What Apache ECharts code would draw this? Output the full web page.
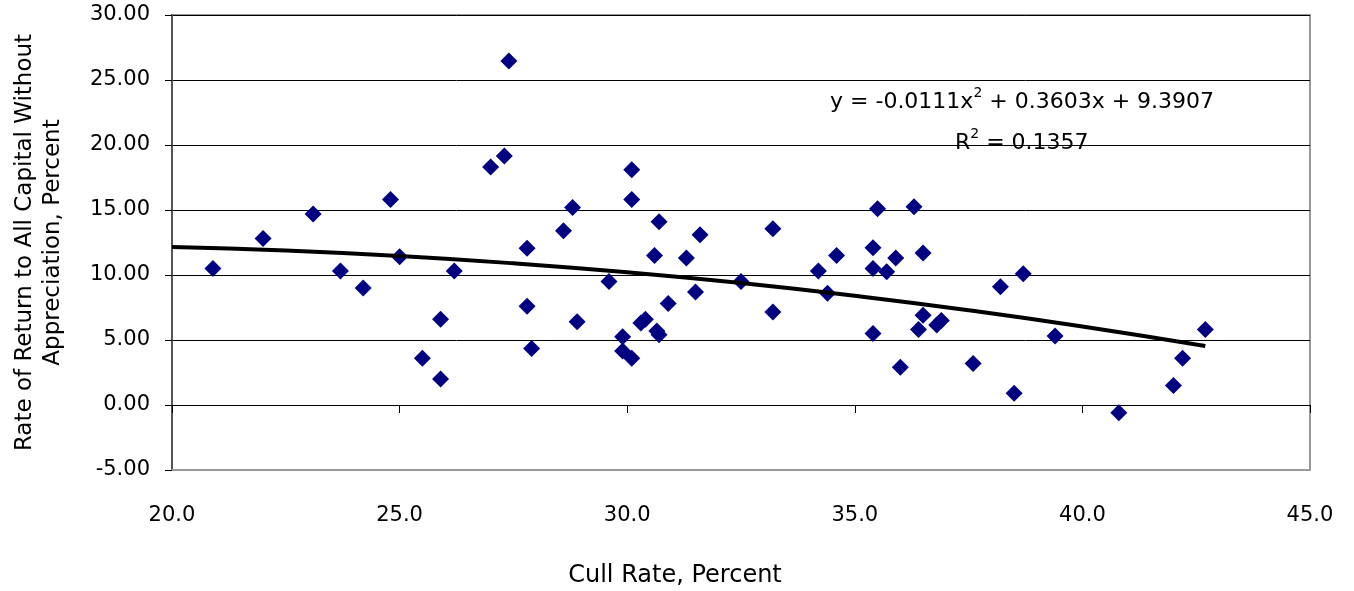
<!DOCTYPE html>
<html>
<head>
<meta charset="utf-8">
<script src="https://cdn.jsdelivr.net/npm/echarts@6/dist/echarts.min.js"></script>
<style>
  html, body { margin: 0; padding: 0; background: #fff; }
  #main { width: 1354px; height: 591px; }
</style>
</head>
<body>
<div id="main"></div>
<script>
// cull rate (x) and rate of return (y)
let cullRate = [
  20.9, 22.0, 23.1, 23.7, 24.2, 24.8, 25.0, 25.5, 25.9, 25.9,
  26.2, 27.0, 27.3, 27.4, 27.8, 27.8, 27.9, 28.6, 28.8, 28.9,
  29.6, 29.9, 29.9, 30.1, 30.1, 30.1, 30.3, 30.4, 30.6, 30.7,
  30.65, 30.7, 30.9, 31.3, 31.5, 31.6, 32.5, 33.2, 33.2, 34.2,
  34.4, 34.6, 35.4, 35.4, 35.4, 35.5, 35.7, 35.9, 36.0, 36.3,
  36.4, 36.5, 36.5, 36.8, 36.9, 37.6, 38.2, 38.5, 38.7, 39.4,
  40.8, 42.0, 42.2, 42.7
];
let returnRate = [
  10.5, 12.8, 14.7, 10.3, 9.0, 15.8, 11.4, 3.6, 6.6, 2.0,
  10.3, 18.3, 19.15, 26.46, 12.05, 7.6, 4.35, 13.4, 15.2, 6.4,
  9.5, 5.25, 4.15, 3.6, 18.1, 15.8, 6.3, 6.6, 11.5, 14.1,
  5.7, 5.4, 7.8, 11.3, 8.7, 13.1, 9.5, 13.55, 7.15, 10.3,
  8.6, 11.5, 12.1, 10.5, 5.5, 15.1, 10.25, 11.3, 2.9, 15.25,
  5.8, 11.7, 6.9, 6.15, 6.5, 3.2, 9.1, 0.9, 10.1, 5.3,
  -0.6, 1.5, 3.6, 5.8
];

// polynomial trendline
let trendX = [20.0, 22.5, 25.0, 27.5, 30.0, 32.5, 35.0, 37.5, 40.0, 42.7];
let trendY = [12.16, 11.88, 11.46, 10.90, 10.21, 9.38, 8.40, 7.29, 6.04, 4.54];

let xTicks = [20, 45, 5];
let yTicks = [-5, 30, 5];

let font = "DejaVu Sans, sans-serif";

let myChart = echarts.init(document.getElementById("main"));

let supText = {
  t: { fontSize: 22, fontFamily: font, fill: "#000" },
  s: { fontSize: 14, fontFamily: font, fill: "#000", verticalAlign: "top", padding: [0, 0, 18, 0] },
};

let option = {
  animation: false,
  textStyle: { fontFamily: font },
  grid: {
    left: 172,
    right: 44,
    top: 15,
    bottom: 121,
    outerBoundsMode: "none",
    containLabel: false,
    show: true,
    borderColor: "#999",
    borderWidth: 2,
  },
  xAxis: [
    {
      type: "value",
      min: xTicks[0],
      max: xTicks[1],
      interval: xTicks[2],
      position: "bottom",
      axisLine: { onZero: false, lineStyle: { color: "#999", width: 2 } },
      axisTick: { show: false },
      splitLine: { show: false },
      axisLabel: {
        color: "#000",
        fontSize: 21,
        margin: 35,
        formatter: (v) => v.toFixed(1),
      },
      name: "Cull Rate, Percent",
      nameLocation: "middle",
      nameGap: 94,
      nameTextStyle: { color: "#000", fontSize: 24, padding: [0, 132, 0, 0] },
    },
    {
      type: "value",
      min: xTicks[0],
      max: xTicks[1],
      interval: xTicks[2],
      position: "top",
      axisLine: { show: true, onZero: true, lineStyle: { color: "#000", width: 1 } },
      axisTick: { show: true, inside: true, length: 8, lineStyle: { color: "#000" } },
      axisLabel: { show: false },
      splitLine: { show: false },
    },
  ],
  yAxis: {
    type: "value",
    min: yTicks[0],
    max: yTicks[1],
    interval: yTicks[2],
    axisLine: { show: true, onZero: false, lineStyle: { color: "#555", width: 2 } },
    axisTick: { show: true, length: 7, lineStyle: { color: "#000" } },
    splitLine: { show: true, lineStyle: { color: "#000", width: 1 } },
    axisLabel: {
      color: "#000",
      fontSize: 21,
      margin: 22,
      formatter: (v) => v.toFixed(2),
    },
    name: "Rate of Return to All Capital Without\nAppreciation, Percent",
    nameLocation: "middle",
    nameRotate: 90,
    nameGap: 105,
    nameTextStyle: { color: "#000", fontSize: 23, lineHeight: 28 },
  },
  graphic: [
    {
      type: "text",
      left: 830,
      top: 86,
      style: { text: "{t|y = -0.0111x}{s|2}{t| + 0.3603x + 9.3907}", rich: supText },
    },
    {
      type: "text",
      left: 955,
      top: 127,
      style: { text: "{t|R}{s|2}{t| = 0.1357}", rich: supText },
    },
  ],
  series: [
    {
      type: "scatter",
      symbol: "diamond",
      symbolSize: 17,
      itemStyle: { color: "#000080", opacity: 1 },
      data: cullRate.map((x, i) => [x, returnRate[i]]),
      z: 3,
    },
    {
      type: "line",
      smooth: true,
      showSymbol: false,
      lineStyle: { color: "#000", width: 4 },
      data: trendX.map((x, i) => [x, trendY[i]]),
      z: 4,
    },
  ],
};

myChart.setOption(option);
</script>
</body>
</html>
